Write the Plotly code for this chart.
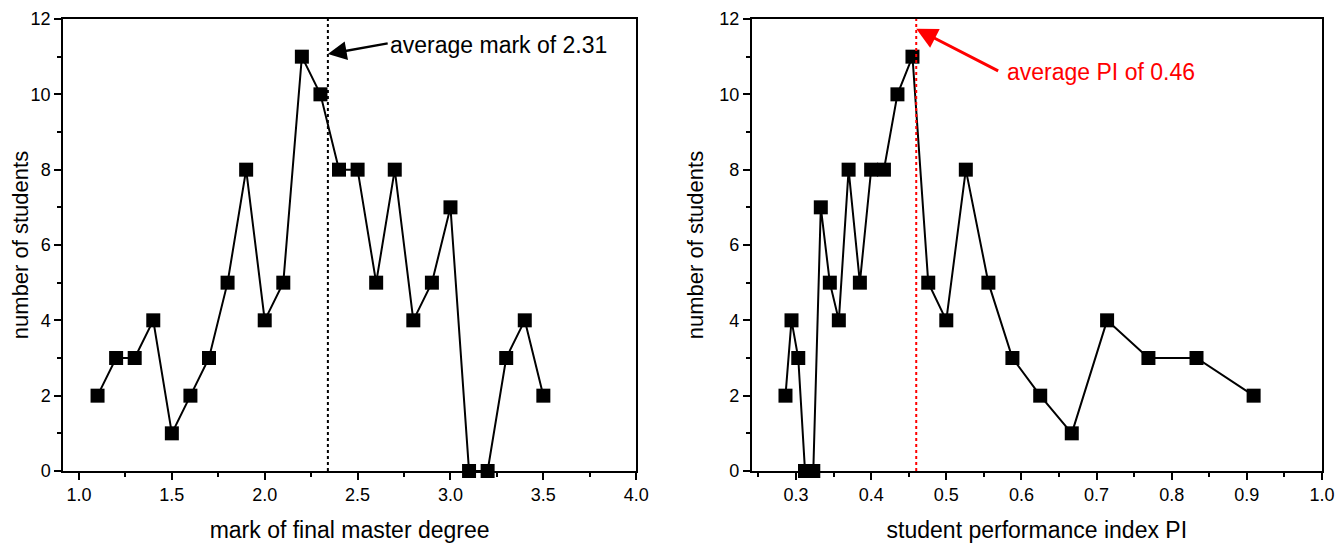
import plotly.graph_objects as go
from plotly.subplots import make_subplots

# left panel: mark of final master degree
marks = [1.1, 1.2, 1.3, 1.4, 1.5, 1.6, 1.7, 1.8, 1.9, 2.0, 2.1, 2.2, 2.3,
         2.4, 2.5, 2.6, 2.7, 2.8, 2.9, 3.0, 3.1, 3.2, 3.3, 3.4, 3.5]
students_mark = [2, 3, 3, 4, 1, 2, 3, 5, 8, 4, 5, 11, 10,
                 8, 8, 5, 8, 4, 5, 7, 0, 0, 3, 4, 2]
avg_mark = 2.34
avg_mark_label = "average mark of 2.31"

# right panel: student performance index PI
pi_values = [0.286, 0.294, 0.303, 0.312, 0.323, 0.333, 0.345, 0.357, 0.370,
             0.385, 0.400, 0.417, 0.435, 0.455, 0.476, 0.500, 0.526, 0.556,
             0.588, 0.625, 0.667, 0.714, 0.769, 0.833, 0.909]
students_pi = [2, 4, 3, 0, 0, 7, 5, 4, 8, 5, 8, 8, 10, 11,
               5, 4, 8, 5, 3, 2, 1, 4, 3, 3, 2]
avg_pi = 0.46
avg_pi_label = "average PI of 0.46"

fig = make_subplots(rows=1, cols=2, horizontal_spacing=0.09)

marker_style = dict(symbol='square', size=14, color='black')
line_style = dict(color='black', width=2)

fig.add_trace(go.Scatter(x=marks, y=students_mark, mode='lines+markers',
                         marker=marker_style, line=line_style, showlegend=False,
                         cliponaxis=False),
              row=1, col=1)
fig.add_trace(go.Scatter(x=pi_values, y=students_pi, mode='lines+markers',
                         marker=marker_style, line=line_style, showlegend=False,
                         cliponaxis=False),
              row=1, col=2)

# average lines
fig.add_shape(type='line', x0=avg_mark, x1=avg_mark, y0=0, y1=12, xref='x', yref='y',
              line=dict(color='black', width=2, dash='dot'))
fig.add_shape(type='line', x0=avg_pi, x1=avg_pi, y0=0, y1=12, xref='x2', yref='y2',
              line=dict(color='red', width=2, dash='dot'))

# arrows
fig.add_annotation(x=avg_mark, y=11.07, ax=2.67, ay=11.36, xref='x', yref='y',
                   axref='x', ayref='y', text='', showarrow=True,
                   arrowhead=2, arrowsize=1.5, arrowwidth=2.5, arrowcolor='black')
fig.add_annotation(x=2.665, y=11.31, xref='x', yref='y', text=avg_mark_label,
                   showarrow=False, xanchor='left', yanchor='middle',
                   font=dict(size=23, color='black'))
fig.add_annotation(x=avg_pi, y=11.74, ax=0.571, ay=10.6, xref='x2', yref='y2',
                   axref='x2', ayref='y2', text='', showarrow=True,
                   arrowhead=2, arrowsize=1.4, arrowwidth=3, arrowcolor='red')
fig.add_annotation(x=0.578, y=10.6, xref='x2', yref='y2', text=avg_pi_label,
                   showarrow=False, xanchor='left', yanchor='middle',
                   font=dict(size=23, color='red'))

axis_common = dict(showline=True, linecolor='black', linewidth=1.5, mirror=True,
                   ticks='outside', ticklen=7, tickwidth=1.5, tickcolor='black',
                   showgrid=False, zeroline=False, ticklabeloverflow='allow',
                   tickfont=dict(size=18, color='black'))

fig.update_xaxes(axis_common, row=1, col=1, range=[0.914, 4.0], dtick=0.5, tick0=1.0,
                 tickformat='.1f', title_text='mark of final master degree',
                 title_font=dict(size=23, color='black'), title_standoff=18,
                 minor=dict(ticks='outside', ticklen=4, dtick=0.25, tick0=1.0,
                            tickcolor='black'),
                 domain=[0, 0.4553])
fig.update_xaxes(axis_common, row=1, col=2, range=[0.241, 1.0], dtick=0.1, tick0=0.3,
                 tickformat='.1f', title_text='student performance index PI',
                 title_font=dict(size=23, color='black'), title_standoff=18,
                 minor=dict(ticks='outside', ticklen=4, dtick=0.05, tick0=0.3,
                            tickcolor='black'),
                 domain=[0.547, 1])
fig.update_yaxes(axis_common, range=[0, 12], dtick=2, title_text='number of students',
                 title_font=dict(size=22, color='black'), title_standoff=10,
                 minor=dict(ticks='outside', ticklen=4, dtick=1, tickcolor='black'))

fig.update_layout(width=1343, height=546, plot_bgcolor='white', paper_bgcolor='white',
                  font=dict(family='Liberation Sans, Arial, sans-serif', color='black'),
                  margin=dict(l=55, r=29, t=11, b=83, autoexpand=False))

fig.write_html("out.html")
